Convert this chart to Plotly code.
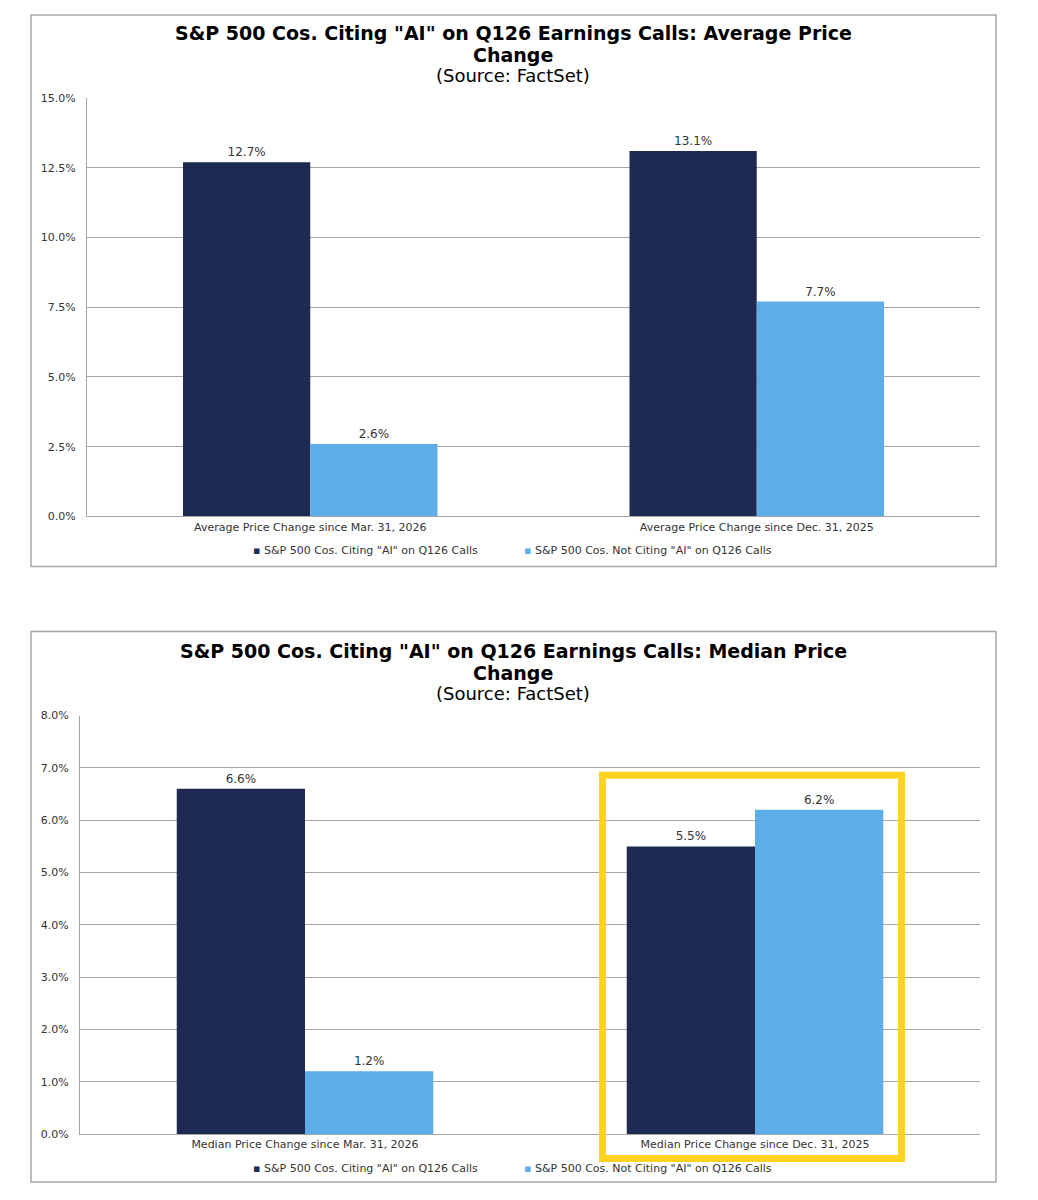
import plotly.graph_objects as go

# Data
avg_categories = ["Average Price Change since Mar. 31, 2026", "Average Price Change since Dec. 31, 2025"]
med_categories = ["Median Price Change since Mar. 31, 2026", "Median Price Change since Dec. 31, 2025"]
series_names = ['S&P 500 Cos. Citing "AI" on Q126 Calls', 'S&P 500 Cos. Not Citing "AI" on Q126 Calls']
avg_citing = [12.7, 13.1]
avg_not_citing = [2.6, 7.7]
med_citing = [6.6, 5.5]
med_not_citing = [1.2, 6.2]

DARK = "#1F2A52"
LIGHT = "#5DADE8"
GRID = "#A6A6A6"
TXT = "#333333"
FONT = "DejaVu Sans, Liberation Sans, Arial, sans-serif"

# the page body adds an 8px margin, so the figure is 16px smaller than the window
W, H = 1022, 1184
OFF = 8


def px(x):
    return (x - OFF) / W


def py(y):
    # the snapshot squeezes the page a little vertically, undo that
    page_y = (y - 6.2) / 0.988
    return 1 - (page_y - OFF) / H


fig = go.Figure()

colors = [DARK, LIGHT]
for i, (name, vals) in enumerate(zip(series_names, [avg_citing, avg_not_citing])):
    fig.add_trace(go.Bar(
        x=avg_categories, y=vals, name=name, marker_color=colors[i], marker_line_width=0,
        texttemplate="%{y:.1f}%", textposition="outside",
        textfont=dict(size=12, color=TXT), cliponaxis=False,
        xaxis="x", yaxis="y",
    ))
for i, (name, vals) in enumerate(zip(series_names, [med_citing, med_not_citing])):
    fig.add_trace(go.Bar(
        x=med_categories, y=vals, name=name, marker_color=colors[i], marker_line_width=0,
        texttemplate="%{y:.1f}%", textposition="outside",
        textfont=dict(size=12, color=TXT), cliponaxis=False,
        xaxis="x2", yaxis="y2",
    ))

axis_common = dict(showline=True, linecolor=GRID, linewidth=1, ticks="",
                   tickfont=dict(size=11, color=TXT, family=FONT))

fig.update_layout(
    width=W, height=H,
    margin=dict(l=0, r=0, t=0, b=0),
    paper_bgcolor="white", plot_bgcolor="white",
    font=dict(family=FONT, color=TXT),
    showlegend=False,
    barmode="group", bargap=0.43, bargroupgap=0,
    xaxis=dict(domain=[px(87), px(980)], anchor="y", **axis_common),
    yaxis=dict(domain=[py(516), py(98)], anchor="x", range=[0, 15], dtick=2.5,
               tickformat=".1f", ticksuffix="%", showgrid=True, gridcolor=GRID,
               zeroline=False, ticklabelstandoff=8, **axis_common),
    xaxis2=dict(domain=[px(80), px(980)], anchor="y2", **axis_common),
    yaxis2=dict(domain=[py(1133), py(715)], anchor="x2", range=[0, 8], dtick=1,
                tickformat=".1f", ticksuffix="%", showgrid=True, gridcolor=GRID,
                zeroline=False, ticklabelstandoff=8, **axis_common),
)

# Titles
for top, kind in [(33, "Average"), (650, "Median")]:
    fig.add_annotation(text=f'<b>S&P 500 Cos. Citing "AI" on Q126 Earnings Calls: {kind} Price</b>',
                       x=px(513), y=py(top), xref="paper", yref="paper", showarrow=False,
                       font=dict(size=19, color="black", family=FONT), yanchor="middle")
    fig.add_annotation(text="<b>Change</b>", x=px(513), y=py(top + 22), xref="paper", yref="paper",
                       showarrow=False, font=dict(size=19, color="black", family=FONT), yanchor="middle")
    fig.add_annotation(text="(Source: FactSet)", x=px(513), y=py(top + 43), xref="paper", yref="paper",
                       showarrow=False, font=dict(size=18, color="black", family=FONT), yanchor="middle")

# Legends drawn as text rows under each chart
for ly in [550, 1167]:
    for name, col, lx in zip(series_names, colors, [251, 522]):
        fig.add_annotation(text=f'<span style="color:{col}">▪</span> {name}',
                           x=px(lx), y=py(ly), xref="paper", yref="paper", showarrow=False,
                           xanchor="left", yanchor="middle",
                           font=dict(size=11, color=TXT, family=FONT))

# Panel borders
for y0, y1 in [(15, 566), (631, 1181)]:
    fig.add_shape(type="rect", xref="paper", yref="paper",
                  x0=px(31), x1=px(996), y0=py(y1), y1=py(y0),
                  line=dict(color=GRID, width=1.5), layer="below")

# Yellow highlight box
fig.add_shape(type="rect", xref="paper", yref="paper",
              x0=px(602.5), x1=px(901.5), y0=py(1157.5), y1=py(774.5),
              line=dict(color="#FFD320", width=7))

fig.write_html("out.html")
